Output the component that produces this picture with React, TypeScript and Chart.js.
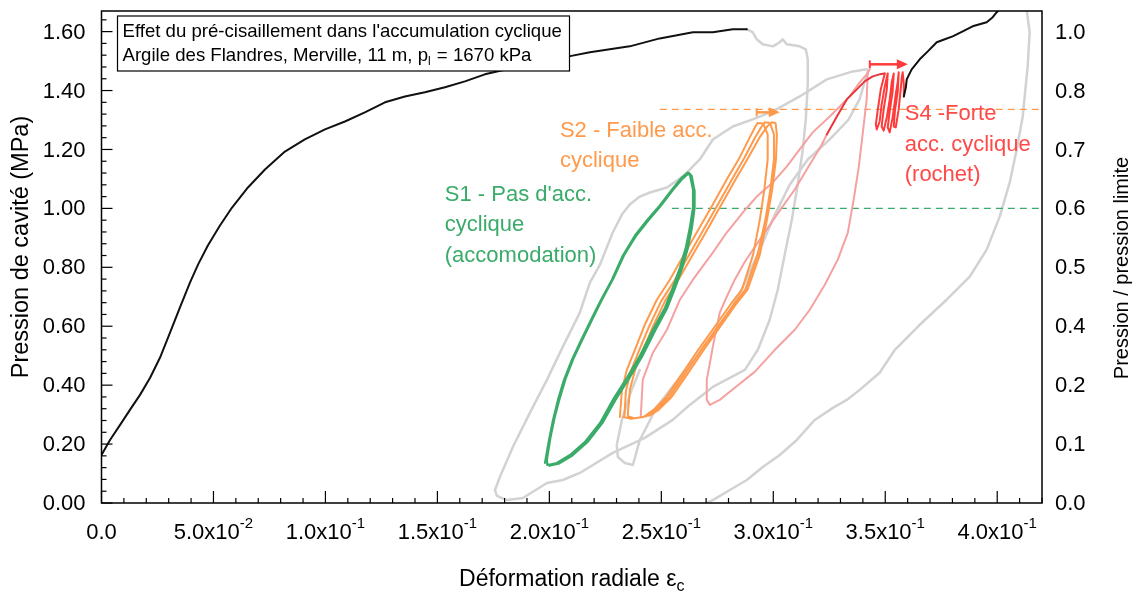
import React, { useEffect, useRef } from "react";
import { Chart, registerables } from "chart.js";
Chart.register(...registerables);

type P = [number, number];

const X_MAX = 0.42;
const Y_MAX = 1.67;

const xMajorValues = [0, 0.05, 0.1, 0.15, 0.2, 0.25, 0.3, 0.35, 0.4];
const xTickBase = ["0.0", "5.0x10", "1.0x10", "1.5x10", "2.0x10", "2.5x10", "3.0x10", "3.5x10", "4.0x10"];
const xTickExp = ["", "-2", "-1", "-1", "-1", "-1", "-1", "-1", "-1"];
const yLeftValues = [0, 0.2, 0.4, 0.6, 0.8, 1.0, 1.2, 1.4, 1.6];
const yLeftLabels = ["0.00", "0.20", "0.40", "0.60", "0.80", "1.00", "1.20", "1.40", "1.60"];
const yRightLabels = ["0.0", "0.1", "0.2", "0.4", "0.5", "0.6", "0.7", "0.8", "1.0"];

const blackLoading: P[] = [
  [0.0, 0.163], [0.0038, 0.214], [0.0083, 0.265], [0.0127, 0.316], [0.0172, 0.367], [0.0217, 0.425],
  [0.0261, 0.493], [0.0306, 0.578], [0.035, 0.663], [0.0395, 0.748], [0.0431, 0.809], [0.0475, 0.874],
  [0.0529, 0.942], [0.0583, 1.003], [0.0654, 1.071], [0.073, 1.132], [0.0819, 1.193], [0.0908, 1.234],
  [0.0998, 1.268], [0.1087, 1.295], [0.1176, 1.326], [0.1266, 1.36], [0.1355, 1.38], [0.1444, 1.394],
  [0.1534, 1.411], [0.1623, 1.431], [0.1712, 1.455], [0.181, 1.472], [0.1913, 1.489], [0.2087, 1.516],
  [0.2181, 1.53], [0.2359, 1.55], [0.2493, 1.577], [0.2641, 1.598], [0.273, 1.598], [0.2819, 1.608], [0.2882, 1.608],
];

const blackFailure: P[] = [
  [0.3583, 1.38], [0.3592, 1.411], [0.3596, 1.438], [0.3618, 1.472], [0.3654, 1.506], [0.369, 1.533],
  [0.373, 1.564], [0.3766, 1.574], [0.3801, 1.584], [0.3846, 1.601], [0.389, 1.618], [0.3953, 1.632],
  [0.398, 1.649], [0.3998, 1.666], [0.4011, 1.676], [0.4033, 1.71],
];

const grayUnload1: P[] = [
  [0.2882, 1.608], [0.2908, 1.598], [0.2926, 1.574], [0.2953, 1.557], [0.2998, 1.55], [0.3029, 1.564],
  [0.3042, 1.574], [0.306, 1.557], [0.3118, 1.55], [0.3145, 1.54], [0.3154, 1.506], [0.3154, 1.421],
  [0.3145, 1.302], [0.3132, 1.2], [0.3109, 1.081], [0.3083, 0.962], [0.3051, 0.843], [0.302, 0.724],
  [0.2984, 0.622], [0.2931, 0.52], [0.2873, 0.452], [0.273, 0.394], [0.2627, 0.333], [0.2551, 0.282],
  [0.2426, 0.221], [0.2283, 0.17], [0.2136, 0.102], [0.206, 0.078], [0.1989, 0.068], [0.1882, 0.017],
  [0.181, 0.01], [0.1766, 0.024], [0.1757, 0.044],
];

const grayReload1: P[] = [
  [0.1757, 0.044], [0.1779, 0.088], [0.1837, 0.19], [0.1913, 0.306], [0.1989, 0.418], [0.206, 0.53],
  [0.2136, 0.646], [0.2181, 0.748], [0.2226, 0.809], [0.2283, 0.918], [0.2324, 0.979], [0.2359, 1.013],
  [0.2404, 1.04], [0.2449, 1.054], [0.2525, 1.071], [0.2596, 1.108], [0.2672, 1.166], [0.273, 1.234],
  [0.2819, 1.278], [0.2908, 1.302], [0.2998, 1.329], [0.3118, 1.38], [0.3239, 1.438], [0.3355, 1.465], [0.3417, 1.472],
];

const grayFinalUnload: P[] = [
  [0.4087, 1.727], [0.4131, 1.676], [0.4145, 1.598], [0.4136, 1.482], [0.4114, 1.312], [0.4087, 1.2],
  [0.4056, 1.088], [0.4011, 0.972], [0.3953, 0.86], [0.3877, 0.768], [0.3774, 0.69], [0.3654, 0.605],
  [0.3543, 0.52], [0.3475, 0.442], [0.3386, 0.384], [0.3328, 0.35], [0.3266, 0.323], [0.3185, 0.282],
  [0.3105, 0.214], [0.3029, 0.163], [0.2953, 0.122], [0.2882, 0.078], [0.2806, 0.044], [0.273, 0.01], [0.2703, 0.0],
];

const grayMiddle: P[] = [
  [0.2404, 0.452], [0.2359, 0.367], [0.2324, 0.282], [0.2301, 0.197], [0.2306, 0.156], [0.2337, 0.136],
  [0.2373, 0.129], [0.2404, 0.214], [0.248, 0.326], [0.2583, 0.428], [0.2658, 0.496], [0.273, 0.564],
  [0.2806, 0.646], [0.2864, 0.734], [0.294, 0.86], [0.3007, 0.979], [0.3074, 1.081], [0.3154, 1.166],
  [0.3252, 1.234], [0.3335, 1.3], [0.3385, 1.37], [0.3412, 1.44], [0.3425, 1.468],
];

const greenCycles: P[] = [
  [0.198, 0.136], [0.1998, 0.214], [0.2016, 0.282], [0.2038, 0.35], [0.2065, 0.418], [0.21, 0.486],
  [0.2136, 0.544], [0.2181, 0.615], [0.2226, 0.683], [0.2279, 0.758], [0.2328, 0.84], [0.2382, 0.908],
  [0.2435, 0.959], [0.2493, 1.01], [0.2547, 1.064], [0.2591, 1.105], [0.2618, 1.122],
  [0.2627, 1.115], [0.2641, 1.064], [0.2641, 1.003], [0.2627, 0.935], [0.2609, 0.867], [0.2583, 0.799],
  [0.2551, 0.731], [0.2516, 0.663], [0.2462, 0.588], [0.2404, 0.5], [0.2346, 0.425], [0.2283, 0.35],
  [0.2226, 0.272], [0.2158, 0.207], [0.2092, 0.163], [0.2033, 0.136], [0.1993, 0.129],
  [0.199, 0.15], [0.2006, 0.225], [0.2024, 0.29], [0.2047, 0.356], [0.2074, 0.424], [0.2108, 0.49],
  [0.2145, 0.55], [0.219, 0.62], [0.2234, 0.688], [0.2286, 0.762], [0.2335, 0.842], [0.239, 0.912],
  [0.2444, 0.963], [0.25, 1.014], [0.2553, 1.066], [0.2596, 1.104], [0.2621, 1.118],
  [0.2632, 1.108], [0.2645, 1.06], [0.2646, 1.0], [0.2633, 0.932], [0.2615, 0.864], [0.259, 0.796],
  [0.2558, 0.728], [0.2523, 0.66], [0.247, 0.585], [0.2412, 0.497], [0.2354, 0.422], [0.2291, 0.347],
  [0.2233, 0.27], [0.2165, 0.205], [0.2098, 0.16], [0.204, 0.133], [0.2, 0.126],
  [0.1986, 0.14], [0.2002, 0.218], [0.202, 0.286], [0.2043, 0.353], [0.2069, 0.42], [0.2104, 0.488],
  [0.214, 0.547], [0.2186, 0.618], [0.223, 0.686], [0.2283, 0.76], [0.2331, 0.838], [0.2386, 0.905],
  [0.244, 0.957], [0.2497, 1.008], [0.255, 1.06], [0.2594, 1.1], [0.2624, 1.12],
  [0.2636, 1.11], [0.2648, 1.062], [0.2649, 1.002], [0.2637, 0.934], [0.2619, 0.866], [0.2594, 0.798],
  [0.2562, 0.73], [0.2527, 0.662], [0.2474, 0.587], [0.2416, 0.499], [0.2358, 0.424], [0.2295, 0.349],
  [0.2237, 0.271], [0.217, 0.206], [0.2103, 0.161], [0.2045, 0.134], [0.2006, 0.128],
];

const orangeCycles: P[] = [
  [0.2315, 0.292], [0.2324, 0.384], [0.2346, 0.452], [0.2382, 0.52], [0.2426, 0.605], [0.248, 0.69],
  [0.2538, 0.758], [0.2596, 0.836], [0.2658, 0.918], [0.273, 1.013], [0.2792, 1.098], [0.285, 1.173],
  [0.2895, 1.241], [0.292, 1.278], [0.293, 1.29],
  [0.2955, 1.288], [0.2975, 1.251], [0.2975, 1.166], [0.296, 1.064], [0.294, 0.962], [0.291, 0.843],
  [0.286, 0.724], [0.2808, 0.673], [0.2745, 0.605], [0.2665, 0.52], [0.259, 0.435], [0.2522, 0.36],
  [0.2465, 0.316], [0.242, 0.292], [0.2365, 0.286], [0.233, 0.292],
  [0.2335, 0.295], [0.2342, 0.38], [0.2364, 0.448], [0.24, 0.516], [0.2446, 0.6], [0.25, 0.686],
  [0.2558, 0.754], [0.2616, 0.832], [0.2678, 0.914], [0.275, 1.01], [0.2812, 1.094], [0.287, 1.17],
  [0.2918, 1.24], [0.2948, 1.278], [0.2962, 1.292],
  [0.2985, 1.29], [0.3003, 1.251], [0.3003, 1.166], [0.2987, 1.064], [0.2965, 0.962], [0.293, 0.843],
  [0.2875, 0.724], [0.2822, 0.673], [0.2758, 0.605], [0.2678, 0.52], [0.2602, 0.435], [0.2534, 0.36],
  [0.2476, 0.316], [0.2432, 0.294], [0.238, 0.288], [0.2352, 0.294],
  [0.235, 0.3], [0.236, 0.385], [0.2382, 0.45], [0.2418, 0.518], [0.2464, 0.602], [0.2518, 0.688],
  [0.2575, 0.756], [0.2634, 0.834], [0.2696, 0.916], [0.2768, 1.012], [0.283, 1.096], [0.2888, 1.172],
  [0.294, 1.242], [0.2975, 1.28], [0.2993, 1.292],
  [0.301, 1.29], [0.3016, 1.251], [0.3012, 1.166], [0.2995, 1.064], [0.2972, 0.962], [0.294, 0.843],
  [0.2885, 0.724], [0.2832, 0.673], [0.2768, 0.605], [0.269, 0.52], [0.2614, 0.435], [0.2546, 0.36],
  [0.2488, 0.316], [0.2445, 0.296],
];

const pinkLoad: P[] = [
  [0.2408, 0.292], [0.2417, 0.418], [0.2462, 0.51], [0.2525, 0.588], [0.2583, 0.69], [0.2641, 0.758],
  [0.273, 0.85], [0.2792, 0.918], [0.2864, 0.986], [0.2926, 1.04], [0.2998, 1.088], [0.306, 1.142],
  [0.3118, 1.2], [0.3176, 1.258], [0.3252, 1.312], [0.3297, 1.346], [0.3341, 1.38], [0.3386, 1.428],
  [0.3417, 1.455], [0.3431, 1.472],
  [0.3422, 1.465], [0.3417, 1.37], [0.34, 1.258], [0.3382, 1.142], [0.3359, 1.03], [0.3333, 0.918],
  [0.3288, 0.826], [0.323, 0.741], [0.3163, 0.656], [0.3096, 0.588], [0.3007, 0.52], [0.2917, 0.445],
  [0.2828, 0.391], [0.2761, 0.35], [0.2717, 0.333], [0.2703, 0.35],
  [0.2703, 0.418], [0.2717, 0.476], [0.273, 0.53], [0.2761, 0.646], [0.2792, 0.7], [0.2828, 0.758],
  [0.2873, 0.819], [0.294, 0.894], [0.3016, 0.979], [0.3096, 1.064], [0.3163, 1.149], [0.3217, 1.217], [0.3239, 1.251],
];

const redLead: P[] = [
  [0.3239, 1.251], [0.3284, 1.312], [0.3328, 1.37], [0.3373, 1.404], [0.3408, 1.431], [0.3444, 1.448],
  [0.3475, 1.455], [0.3498, 1.458],
];

const redRatchet: P[] = [
  [0.3498, 1.458], [0.348, 1.404], [0.3467, 1.336], [0.3458, 1.285], [0.3462, 1.268], [0.3475, 1.295],
  [0.3484, 1.353], [0.3498, 1.414], [0.3511, 1.458],
  [0.3507, 1.404], [0.3493, 1.336], [0.3484, 1.278], [0.3493, 1.264], [0.3507, 1.309], [0.352, 1.37],
  [0.3529, 1.428], [0.3538, 1.458],
  [0.3533, 1.397], [0.352, 1.329], [0.3511, 1.275], [0.352, 1.258], [0.3533, 1.309], [0.3547, 1.387],
  [0.3556, 1.431], [0.356, 1.462],
  [0.3556, 1.397], [0.3543, 1.329], [0.3538, 1.278], [0.3547, 1.275], [0.356, 1.336], [0.3569, 1.404],
  [0.3574, 1.445], [0.3578, 1.462],
  [0.3583, 1.421], [0.3583, 1.38],
];

const greenLevel: P[] = [[0.2547, 1.0], [0.42, 1.0]];
const orangeLevel: P[] = [[0.2493, 1.336], [0.42, 1.336]];

const orangeArrow = { from: 0.2926, to: 0.3029, level: 1.326 };
const redArrow = { from: 0.3431, to: 0.3601, level: 1.489 };

const GRAY = "#d2d2d2";
const GREEN = "#3aab69";
const ORANGE = "#ff9a4c";
const PINK = "#f5a1a1";
const RED = "#ff3a3a";
const DARKRED = "#e8363c";
const FONT = '"Liberation Sans", Arial, Helvetica, sans-serif';

function series(data: P[], color: string, width: number, order: number, dash: number[] = []) {
  return {
    data: data.map(([x, y]) => ({ x, y })),
    borderColor: color,
    backgroundColor: color,
    borderWidth: width,
    borderDash: dash,
    pointRadius: 0,
    pointHoverRadius: 0,
    fill: false,
    tension: 0,
    order,
    clip: 0,
    borderJoinStyle: "round",
    borderCapStyle: dash.length ? "butt" : "round",
    xAxisID: "x",
    yAxisID: "y",
  };
}

const decorPlugin = {
  id: "decor",
  afterDatasetsDraw(chart: any) {
    const { ctx, chartArea: a, scales } = chart;
    const xs = scales.x;
    const ys = scales.y;
    ctx.save();

    const drawArrow = (arr: { from: number; to: number; level: number }, color: string) => {
      const x0 = xs.getPixelForValue(arr.from);
      const x1 = xs.getPixelForValue(arr.to);
      const y = ys.getPixelForValue(arr.level);
      ctx.strokeStyle = color;
      ctx.fillStyle = color;
      ctx.lineWidth = 2.5;
      ctx.beginPath();
      ctx.moveTo(x0, y);
      ctx.lineTo(x1 - 8, y);
      ctx.stroke();
      ctx.lineWidth = 2;
      ctx.beginPath();
      ctx.moveTo(x0, y - 4);
      ctx.lineTo(x0, y + 4);
      ctx.stroke();
      ctx.beginPath();
      ctx.moveTo(x1, y);
      ctx.lineTo(x1 - 11, y - 5);
      ctx.lineTo(x1 - 11, y + 5);
      ctx.closePath();
      ctx.fill();
    };
    drawArrow(orangeArrow, ORANGE);
    drawArrow(redArrow, RED);

    ctx.strokeStyle = "#000";
    ctx.lineWidth = 1.5;
    ctx.strokeRect(a.left, a.top, a.right - a.left, a.bottom - a.top);

    ctx.lineWidth = 1.2;
    for (let i = 0; i <= 42; i++) {
      const px = xs.getPixelForValue(i / 100);
      const len = i % 5 === 0 ? 12 : 5;
      ctx.beginPath();
      ctx.moveTo(px, a.bottom);
      ctx.lineTo(px, a.bottom - len);
      ctx.stroke();
    }
    for (let i = 0; i <= 41; i++) {
      const py = ys.getPixelForValue(i * 0.04);
      const len = i % 5 === 0 ? 11 : 5;
      ctx.beginPath();
      ctx.moveTo(a.left, py);
      ctx.lineTo(a.left + len, py);
      ctx.stroke();
    }

    ctx.fillStyle = "#000";
    ctx.textBaseline = "alphabetic";
    xMajorValues.forEach((v, i) => {
      const px = xs.getPixelForValue(v);
      ctx.font = `22px ${FONT}`;
      const wb = ctx.measureText(xTickBase[i]).width;
      ctx.font = `15px ${FONT}`;
      const we = xTickExp[i] ? ctx.measureText(xTickExp[i]).width : 0;
      const start = px - (wb + we) / 2;
      ctx.font = `22px ${FONT}`;
      ctx.textAlign = "left";
      ctx.fillText(xTickBase[i], start, a.bottom + 36);
      if (xTickExp[i]) {
        ctx.font = `15px ${FONT}`;
        ctx.fillText(xTickExp[i], start + wb, a.bottom + 25);
      }
    });
    ctx.font = `22px ${FONT}`;
    ctx.textBaseline = "middle";
    yLeftValues.forEach((v, i) => {
      const py = ys.getPixelForValue(v);
      ctx.textAlign = "right";
      ctx.fillText(yLeftLabels[i], a.left - 16, py + 1);
      ctx.textAlign = "left";
      ctx.fillText(yRightLabels[i], a.right + 13, py + 1);
    });

    ctx.font = `23.5px ${FONT}`;
    ctx.textAlign = "center";
    ctx.save();
    ctx.translate(22, 247);
    ctx.rotate(-Math.PI / 2);
    ctx.fillText("Pression de cavité (MPa)", 0, 0);
    ctx.restore();
    ctx.font = `20px ${FONT}`;
    ctx.save();
    ctx.translate(1122, 268);
    ctx.rotate(-Math.PI / 2);
    ctx.fillText("Pression / pression limite", 0, 0);
    ctx.restore();

    ctx.textBaseline = "alphabetic";
    ctx.font = `23px ${FONT}`;
    const t1 = "Déformation radiale ε";
    const w1 = ctx.measureText(t1).width;
    ctx.font = `16px ${FONT}`;
    const w2 = ctx.measureText("c").width;
    const cx = (a.left + a.right) / 2;
    const sx = cx - (w1 + w2) / 2;
    ctx.font = `23px ${FONT}`;
    ctx.textAlign = "left";
    ctx.fillText(t1, sx, 586);
    ctx.font = `16px ${FONT}`;
    ctx.fillText("c", sx + w1, 591);

    const bx = a.left + 16;
    const by = a.top + 5;
    const bw = 452;
    const bh = 55;
    ctx.fillStyle = "#fff";
    ctx.fillRect(bx, by, bw, bh);
    ctx.strokeStyle = "#000";
    ctx.lineWidth = 1.2;
    ctx.strokeRect(bx, by, bw, bh);
    ctx.fillStyle = "#000";
    ctx.font = `18.6px ${FONT}`;
    ctx.fillText("Effet du pré-cisaillement dans l'accumulation cyclique", bx + 5, by + 21);
    const l2a = "Argile des Flandres, Merville, 11 m, p";
    ctx.fillText(l2a, bx + 5, by + 45);
    const wa = ctx.measureText(l2a).width;
    ctx.font = `12px ${FONT}`;
    ctx.fillText("l", bx + 5 + wa, by + 49);
    const wl = ctx.measureText("l").width;
    ctx.font = `18.6px ${FONT}`;
    ctx.fillText(" = 1670 kPa", bx + 5 + wa + wl + 1, by + 45);

    const note = (lines: string[], ex: number, py0: number, color: string) => {
      ctx.fillStyle = color;
      ctx.font = `22px ${FONT}`;
      ctx.textAlign = "left";
      ctx.textBaseline = "middle";
      const x = xs.getPixelForValue(ex);
      const y0 = ys.getPixelForValue(py0);
      lines.forEach((s, k) => ctx.fillText(s, x, y0 + k * 30.5));
    };
    note(["S1 - Pas d'acc.", "cyclique", "(accomodation)"], 0.1533, 1.047, GREEN);
    note(["S2 - Faible acc.", "cyclique"], 0.2047, 1.264, ORANGE);
    note(["S4 -Forte", "acc. cyclique", "(rochet)"], 0.3587, 1.319, "#ff4848");

    ctx.restore();
  },
};

export default function App() {
  const ref = useRef<HTMLCanvasElement | null>(null);
  useEffect(() => {
    if (!ref.current) return;
    const chart = new Chart(ref.current, {
      type: "line",
      data: {
        datasets: [
          series(grayUnload1, GRAY, 2.5, 20),
          series(grayReload1, GRAY, 2.5, 20),
          series(grayFinalUnload, GRAY, 2.5, 20),
          series(grayMiddle, GRAY, 2.5, 20),
          series(greenLevel, GREEN, 1.2, 18, [7, 5]),
          series(orangeLevel, ORANGE, 1.2, 18, [7, 5]),
          series(pinkLoad, PINK, 2, 15),
          series(orangeCycles, ORANGE, 2, 12),
          series(greenCycles, GREEN, 2, 11),
          series(redLead, DARKRED, 2, 10),
          series(redRatchet, RED, 2, 9),
          series(blackLoading, "#111", 2, 5),
          series(blackFailure, "#111", 2, 5),
        ] as any,
      },
      options: {
        animation: false,
        responsive: false,
        devicePixelRatio: 1,
        layout: { padding: { top: 11, left: 0, right: 0, bottom: 0 } },
        plugins: { legend: { display: false }, tooltip: { enabled: false } },
        scales: {
          x: {
            type: "linear",
            min: 0,
            max: X_MAX,
            ticks: { display: false },
            grid: { display: false },
            border: { display: false },
            afterFit: (s: any) => {
              s.height = 91;
            },
          },
          y: {
            type: "linear",
            position: "left",
            min: 0,
            max: Y_MAX,
            ticks: { display: false },
            grid: { display: false },
            border: { display: false },
            afterFit: (s: any) => {
              s.width = 101.5;
            },
          },
          y2: {
            type: "linear",
            position: "right",
            min: 0,
            max: 1,
            ticks: { display: false },
            grid: { display: false },
            border: { display: false },
            afterFit: (s: any) => {
              s.width = 94;
            },
          },
        },
      } as any,
      plugins: [decorPlugin],
    });
    return () => chart.destroy();
  }, []);
  return (
    <div style={{ position: "absolute", left: 0, top: 0, width: 1136, height: 594, background: "#fff" }}>
      <canvas ref={ref} width={1136} height={594} style={{ width: 1136, height: 594 }} />
    </div>
  );
}
